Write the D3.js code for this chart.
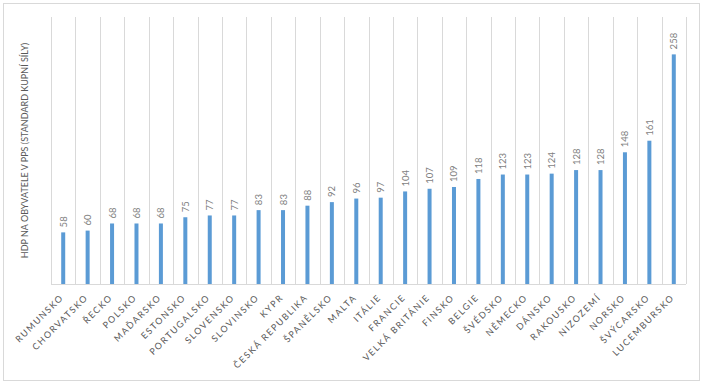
<!DOCTYPE html>
<html>
<head>
<meta charset="utf-8">
<script src="https://cdn.jsdelivr.net/npm/d3@7"></script>
<style>
  body { margin: 0; background: #fff; }
  svg { font-family: Lato, "Open Sans", sans-serif; }
</style>
</head>
<body>
<div id="chart"></div>
<script>
const countries = ['RUMUNSKO', 'CHORVATSKO', 'ŘECKO', 'POLSKO', 'MAĎARSKO', 'ESTONSKO', 'PORTUGALSKO',
  'SLOVENSKO', 'SLOVINSKO', 'KYPR', 'ČESKÁ REPUBLIKA', 'ŠPANĚLSKO', 'MALTA', 'ITÁLIE', 'FRANCIE',
  'VELKÁ BRITÁNIE', 'FINSKO', 'BELGIE', 'ŠVÉDSKO', 'NĚMECKO', 'DÁNSKO', 'RAKOUSKO', 'NIZOZEMÍ',
  'NORSKO', 'ŠVÝCARSKO', 'LUCEMBURSKO'];
const hdp = [58, 60, 68, 68, 68, 75, 77, 77, 83, 83, 88, 92, 96, 97, 104, 107, 109, 118, 123, 123,
  124, 128, 128, 148, 161, 258];
const yTitle = 'HDP NA OBYVATELE V PPS (STANDARD KUPNÍ SÍLY)';

const width = 703, height = 384;
const plotL = 51, plotR = 686, plotT = 17, plotB = 284;

const svg = d3.select('#chart').append('svg')
  .attr('width', width)
  .attr('height', height);

// rámeček
svg.append('rect')
  .attr('x', 3.5).attr('y', 3.5)
  .attr('width', 696).attr('height', 377)
  .attr('fill', '#fff').attr('stroke', '#d9d9d9');

const x = d3.scaleBand().domain(countries).range([plotL, plotR]);
const y = d3.scaleLinear().domain([0, 300]).range([plotB, plotT]);

// svislé mřížky mezi kategoriemi
const edges = countries.map(c => x(c)).concat([plotR]);
svg.selectAll('line.grid')
  .data(edges)
  .enter().append('line')
  .attr('class', 'grid')
  .attr('x1', d => Math.round(d) + 0.5).attr('x2', d => Math.round(d) + 0.5)
  .attr('y1', y(300)).attr('y2', y(0))
  .attr('stroke', '#d9d9d9');

// osa x
svg.append('line')
  .attr('x1', plotL).attr('x2', plotR)
  .attr('y1', y(0) + 0.5).attr('y2', y(0) + 0.5)
  .attr('stroke', '#d9d9d9');

const barW = 4;
svg.selectAll('rect.bar')
  .data(hdp)
  .enter().append('rect')
  .attr('class', 'bar')
  .attr('x', (d, i) => x(countries[i]) + x.bandwidth() / 2 - barW / 2)
  .attr('y', d => y(d))
  .attr('width', barW)
  .attr('height', d => y(0) - y(d))
  .attr('fill', '#5b9bd5');

// hodnoty nad sloupci
svg.selectAll('text.val')
  .data(hdp)
  .enter().append('text')
  .attr('class', 'val')
  .attr('transform', (d, i) => `translate(${x(countries[i]) + x.bandwidth() / 2 + 3.5},${y(d) - 5}) rotate(-90)`)
  .attr('font-size', 9.5)
  .attr('fill', '#7f7f7f')
  .text(d => d);

// popisky kategorií
svg.selectAll('text.cat')
  .data(countries)
  .enter().append('text')
  .attr('class', 'cat')
  .attr('transform', d => `translate(${x(d) + x.bandwidth() / 2 + 1},${y(0) + 14}) rotate(-45)`)
  .attr('text-anchor', 'end')
  .attr('font-size', 9)
  .attr('letter-spacing', 1.5)
  .attr('fill', '#595959')
  .text(d => d);

// název osy y
svg.append('text')
  .attr('transform', `translate(28,${(plotT + plotB) / 2}) rotate(-90)`)
  .attr('text-anchor', 'middle')
  .attr('font-size', 9)
  .attr('fill', '#595959')
  .text(yTitle);
</script>
</body>
</html>
